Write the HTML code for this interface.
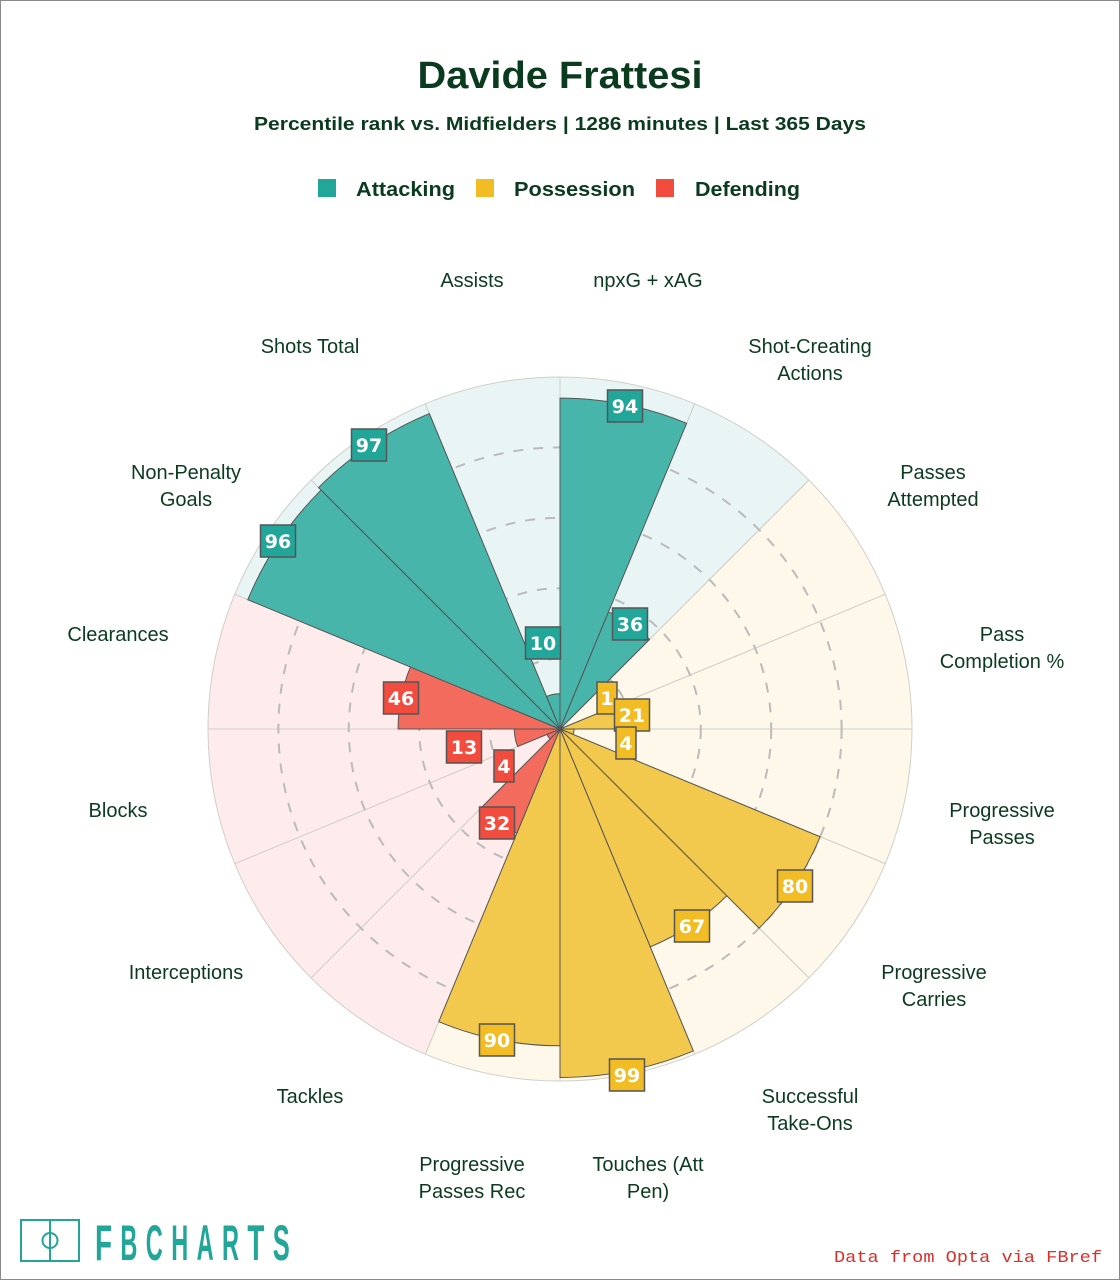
<!DOCTYPE html>
<html><head><meta charset="utf-8">
<style>
html,body{margin:0;padding:0;background:#fff;}
svg{display:block;}
text{font-family:"Liberation Sans",Arial,sans-serif;}
</style></head>
<body>
<svg id="s" width="1120" height="1280" viewBox="0 0 1120 1280" xmlns="http://www.w3.org/2000/svg">
<rect x="0.5" y="0.5" width="1119" height="1279" fill="#fff" stroke="#888" stroke-width="1"/>
<text x="560" y="88" text-anchor="middle" font-size="38" font-weight="bold" fill="#0b3b1e" textLength="285" lengthAdjust="spacingAndGlyphs">Davide Frattesi</text>
<text x="560" y="130" text-anchor="middle" font-size="18" font-weight="bold" fill="#0b3b1e" textLength="612" lengthAdjust="spacingAndGlyphs">Percentile rank vs. Midfielders | 1286 minutes | Last 365 Days</text>
<rect x="318" y="179" width="18" height="18" fill="#22a699"/>
<text x="356" y="196" font-size="20" font-weight="bold" fill="#0b3b1e" textLength="99" lengthAdjust="spacingAndGlyphs">Attacking</text>
<rect x="476" y="179" width="18" height="18" fill="#f2bd24"/>
<text x="514" y="196" font-size="20" font-weight="bold" fill="#0b3b1e" textLength="121" lengthAdjust="spacingAndGlyphs">Possession</text>
<rect x="656" y="179" width="18" height="18" fill="#f24c3e"/>
<text x="695" y="196" font-size="20" font-weight="bold" fill="#0b3b1e" textLength="105" lengthAdjust="spacingAndGlyphs">Defending</text>
<g id="chart"></g>
<g id="labels" font-size="20" fill="#0b3b1e" text-anchor="middle"></g>
<g id="boxes"></g>
<rect x="21" y="1220" width="58" height="41" fill="none" stroke="#22a699" stroke-width="2"/>
<line x1="50" y1="1220" x2="50" y2="1261" stroke="#22a699" stroke-width="2"/>
<circle cx="50" cy="1240.5" r="7.5" fill="none" stroke="#22a699" stroke-width="2"/>
<g id="logo" font-size="50" font-weight="bold" fill="#22a699"></g>
<text x="1102" y="1262" text-anchor="end" font-size="17" fill="#d9302a" style="font-family:'Liberation Mono',monospace" textLength="268" lengthAdjust="spacingAndGlyphs">Data from Opta via FBref</text>
</svg>
<script>
var cx=560,cy=729,R=352,NS="http://www.w3.org/2000/svg";
var vals=[94,36,1,21,4,80,67,99,90,32,4,13,46,96,97,10];
var cat=[0,0,1,1,1,1,1,1,1,2,2,2,2,0,0,0];
var bg=["#e8f5f4","#fdf8ea","#feecec"],fill=["#47b5aa","#f2c94c","#f26b5c"],box=["#22a699","#f2bd24","#f24c3e"];
function P(r,a){var t=a*Math.PI/180;return [cx+r*Math.sin(t),cy-r*Math.cos(t)];}
function wedge(r,a0,a1,f,st,sw){var p0=P(r,a0),p1=P(r,a1);var e=document.createElementNS(NS,"path");
e.setAttribute("d","M"+cx+","+cy+"L"+p0[0]+","+p0[1]+"A"+r+","+r+" 0 0 1 "+p1[0]+","+p1[1]+"Z");
e.setAttribute("fill",f);e.setAttribute("stroke",st);e.setAttribute("stroke-width",sw);return e;}
var g=document.getElementById("chart");
for(var i=0;i<16;i++)g.appendChild(wedge(R,i*22.5,(i+1)*22.5,bg[cat[i]],"#d0cfc8",1));
[0.2,0.4,0.6,0.8].forEach(function(f){var c=document.createElementNS(NS,"circle");c.setAttribute("cx",cx);c.setAttribute("cy",cy);c.setAttribute("r",R*f);
c.setAttribute("fill","none");c.setAttribute("stroke","#bbb");c.setAttribute("stroke-width",2);c.setAttribute("stroke-dasharray","10 10");g.appendChild(c);});
for(var i=0;i<16;i++)g.appendChild(wedge(R*vals[i]/100,i*22.5,(i+1)*22.5,fill[cat[i]],"#555",1));
var labs=[["npxG + xAG"],["Shot-Creating","Actions"],["Passes","Attempted"],["Pass","Completion %"],["Progressive","Passes"],["Progressive","Carries"],["Successful","Take-Ons"],["Touches (Att","Pen)"],["Progressive","Passes Rec"],["Tackles"],["Interceptions"],["Blocks"],["Clearances"],["Non-Penalty","Goals"],["Shots Total"],["Assists"]];
var lp=[[648,280],[810,346],[933,472],[1002,634],[1002,810],[934,972],[810,1096],[648,1164],[472,1164],[310,1096],[186,972],[118,810],[118,634],[186,472],[310,346],[472,280]];
var L=document.getElementById("labels");
for(var i=0;i<16;i++){labs[i].forEach(function(s,k){var t=document.createElementNS(NS,"text");t.setAttribute("x",lp[i][0]);t.setAttribute("y",lp[i][1]+7+k*27);t.textContent=s;L.appendChild(t);});}
var bp=[[625,406],[630,624],[607,698],[632,715],[626,743],[795,886],[692,926],[627,1075],[497,1040],[497,823],[504,766],[464,747],[401,698],[278,541],[369,445],[543,643]];
var B=document.getElementById("boxes");
for(var i=0;i<16;i++){var w=vals[i]<10?20:35,h=32;var r=document.createElementNS(NS,"rect");
r.setAttribute("x",bp[i][0]-w/2);r.setAttribute("y",bp[i][1]-h/2);r.setAttribute("width",w);r.setAttribute("height",h);
r.setAttribute("fill",box[cat[i]]);r.setAttribute("stroke","#555");r.setAttribute("stroke-width",1.5);B.appendChild(r);
var t=document.createElementNS(NS,"text");t.setAttribute("x",bp[i][0]);t.setAttribute("y",bp[i][1]+7);t.setAttribute("text-anchor","middle");
t.setAttribute("font-size","19");t.setAttribute("font-weight","bold");t.setAttribute("fill","#fff");t.setAttribute("style","font-family:'DejaVu Sans',sans-serif");t.textContent=vals[i];B.appendChild(t);}
var LG=document.getElementById("logo"),s="FBCHARTS";
for(var i=0;i<8;i++){var t=document.createElementNS(NS,"text");t.setAttribute("x",95+i*25.4);t.setAttribute("y",1260);
t.setAttribute("textLength",17);t.setAttribute("lengthAdjust","spacingAndGlyphs");t.textContent=s[i];LG.appendChild(t);}
</script>
</body></html>
